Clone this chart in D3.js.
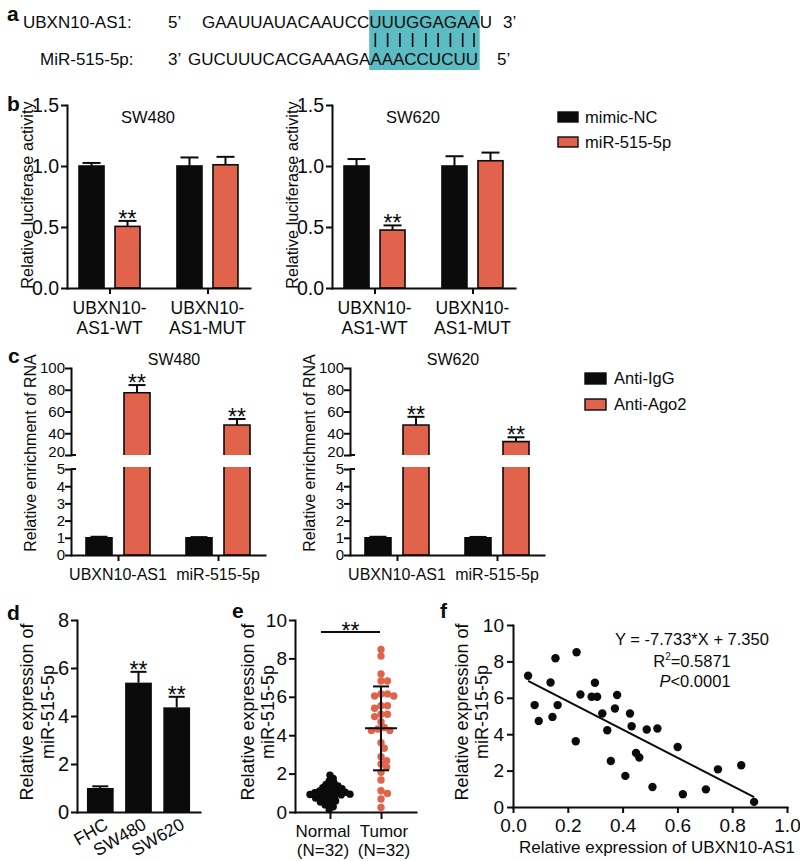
<!DOCTYPE html>
<html><head><meta charset="utf-8">
<script src="https://cdn.jsdelivr.net/npm/d3@7"></script>
<style>
body{margin:0;background:#fff}
svg{display:block}
text{font-family:"Liberation Sans",Arial,Helvetica,sans-serif;fill:#0b0b0b}
</style>
</head><body>
<svg id="fig" width="800" height="861"></svg>
<script>
// ---------------- DATA ----------------
const seqTopLabel = "UBXN10-AS1:";
const seqBotLabel = "MiR-515-5p:";
const seqTop = ["GAAUUAUACAAUCC", "UUUGGAGAA", "U"];
const seqBot = ["GUCUUUCACGAAAGA", "AAACCUCUU", ""];

const lucGroups = ["UBXN10-AS1-WT", "UBXN10-AS1-MUT"];
const lucGroupLines = [["UBXN10-", "AS1-WT"], ["UBXN10-", "AS1-MUT"]];
const lucSeries = ["mimic-NC", "miR-515-5p"];
const lucSW480 = [[1.00, 0.505], [1.00, 1.01]];
const lucSW480Err = [[0.025, 0.045], [0.07, 0.065]];
const lucSW620 = [[1.00, 0.475], [1.00, 1.043]];
const lucSW620Err = [[0.057, 0.038], [0.08, 0.067]];
const lucTicks = [0, 0.5, 1.0, 1.5];

const ripGroups = ["UBXN10-AS1", "miR-515-5p"];
const ripSeries = ["Anti-IgG", "Anti-Ago2"];
const ripSW480 = [[1.0, 77.3], [1.0, 47.6]];
const ripSW480Err = [[0.06, 7.0], [0.04, 5.5]];
const ripSW620 = [[1.0, 47.6], [1.0, 32.3]];
const ripSW620Err = [[0.06, 7.5], [0.05, 4.0]];
const ripTicksLow = [0, 1, 2, 3, 4, 5];
const ripTicksHigh = [20, 40, 60, 80, 100];

const cellLines = ["FHC", "SW480", "SW620"];
const cellExpr = [1.0, 5.39, 4.36];
const cellErr = [0.07, 0.45, 0.44];
const cellTicks = [0, 2, 4, 6, 8];

const tissueGroups = ["Normal", "Tumor"];
const tissueN = ["(N=32)", "(N=32)"];
const normalVals = [1.92, 1.75, 1.62, 1.52, 1.44, 1.36, 1.31, 1.26, 1.21, 1.17, 1.13, 1.09, 1.06, 1.03, 1.01, 0.99,
                    0.96, 0.93, 0.91, 0.89, 0.86, 0.82, 0.78, 0.73, 0.68, 0.63, 0.57, 0.52, 0.45, 0.37, 0.27, 0.13];
const tumorVals = [8.47, 8.12, 7.19, 6.82, 6.82, 6.04, 6.15, 6.04, 6.15, 5.40, 5.54, 5.54, 4.97, 5.09, 5.09, 4.70,
                   4.40, 4.24, 4.32, 4.24, 3.61, 3.32, 2.88, 2.67, 2.50, 2.33, 2.07, 1.67, 1.11, 0.97, 0.68, 0.24];
const tissueTicks = [0, 2, 4, 6, 8, 10];

const corrX = [0.055, 0.079, 0.094, 0.137, 0.155, 0.144, 0.163, 0.232, 0.229, 0.246, 0.287, 0.299, 0.307, 0.326, 0.344, 0.357,
               0.372, 0.380, 0.410, 0.427, 0.433, 0.449, 0.461, 0.488, 0.509, 0.527, 0.601, 0.620, 0.704, 0.748, 0.833, 0.880];
const corrY = [7.21, 5.60, 4.73, 6.84, 8.17, 4.95, 5.60, 8.50, 3.61, 6.18, 6.06, 6.83, 6.06, 5.14, 4.22, 2.53,
               5.41, 6.15, 1.71, 5.14, 4.44, 2.97, 2.72, 4.26, 1.10, 4.31, 3.30, 0.70, 0.97, 2.07, 2.29, 0.28];
const corrSlope = -7.733, corrIntercept = 7.350;
const corrXTicks = [0, 0.2, 0.4, 0.6, 0.8, 1.0];
const corrYTicks = [0, 2, 4, 6, 8, 10];

// ---------------- STYLE ----------------
const FONT = '"Liberation Sans", Arial, Helvetica, sans-serif';
const BLACK = "#0b0b0b", ORANGE = "#e2634b", CYAN = "#5bbcc4";
const seriesColor = [BLACK, ORANGE];
const svg = d3.select("#fig");

function txt(g, x, y, s, size, anchor) {
  return g.append("text").attr("x", x).attr("y", y).attr("font-size", size)
    .attr("text-anchor", anchor || "start").text(s);
}
function panelLetter(x, y, s) {
  txt(svg, x, y, s, 21).attr("font-weight", "bold");
}
function styleAxis(ax, size) {
  ax.attr("font-family", FONT).attr("font-size", size);
  ax.select(".domain").attr("stroke", BLACK).attr("stroke-width", 2).attr("stroke-linecap", "square");
  ax.selectAll(".tick line").attr("stroke", BLACK).attr("stroke-width", 2);
  ax.selectAll(".tick text").attr("fill", BLACK);
  return ax;
}
function vlabel(g, x, yc, s, size) {
  return g.append("text").attr("transform", `translate(${x},${yc}) rotate(-90)`)
    .attr("text-anchor", "middle").attr("dy", "0.35em").attr("font-size", size).text(s);
}
function errBar(g, cx, yTop, yBase, cap) {
  g.append("line").attr("x1", cx).attr("x2", cx).attr("y1", yBase).attr("y2", yTop)
    .attr("stroke", BLACK).attr("stroke-width", 2);
  g.append("line").attr("x1", cx - cap / 2).attr("x2", cx + cap / 2).attr("y1", yTop).attr("y2", yTop)
    .attr("stroke", BLACK).attr("stroke-width", 2);
}
function stars(g, cx, yTop) {
  txt(g, cx, yTop + 6, "**", 23, "middle");
}

// ---------------- PANEL A ----------------
{
  const g = svg.append("g");
  panelLetter(7, 21, "a");
  txt(g, 23, 28, seqTopLabel, 17);
  txt(g, 40, 65, seqBotLabel, 17);
  txt(g, 168, 28, "5\u2019", 17);
  txt(g, 168, 65, "3\u2019", 17);
  const top = txt(g, 202, 28, seqTop.join(""), 17);
  txt(g, 188, 65, seqBot.join(""), 17);
  txt(g, 503, 28, "3\u2019", 17);
  txt(g, 497, 65, "5\u2019", 17);
  const n0 = seqTop[0].length, n1 = seqTop[1].length;
  const tn = top.node();
  const bx0 = tn.getStartPositionOfChar(n0).x;
  const bx1 = tn.getEndPositionOfChar(n0 + n1 - 1).x;
  g.insert("rect", ":first-child").attr("x", bx0).attr("y", 10).attr("width", bx1 - bx0).attr("height", 60).attr("fill", CYAN);
  for (let i = 0; i < n1; i++) {
    const c = (tn.getStartPositionOfChar(n0 + i).x + tn.getEndPositionOfChar(n0 + i).x) / 2;
    g.append("line").attr("x1", c).attr("x2", c).attr("y1", 33).attr("y2", 47)
      .attr("stroke", BLACK).attr("stroke-width", 1.6);
  }
}

// ---------------- PANEL B ----------------
function lucPanel(x0, title, vals, errs) {
  const g = svg.append("g");
  const y = d3.scaleLinear().domain([0, 1.5]).range([288, 105]);
  const xg = d3.scalePoint().domain(lucGroups).range([x0, x0 + 183]).padding(0.434);
  const xs = d3.scalePoint().domain(lucSeries).range([-18, 18]);
  const bw = 25;
  lucGroups.forEach((grp, i) => {
    lucSeries.forEach((s, j) => {
      const cx = xg(grp) + xs(s), v = vals[i][j], e = errs[i][j];
      errBar(g, cx, y(v + e), y(v), 18);
      g.append("rect").attr("x", cx - bw / 2).attr("y", y(v)).attr("width", bw).attr("height", y(0) - y(v))
        .attr("fill", seriesColor[j]).attr("stroke", BLACK).attr("stroke-width", 1.6);
      if (i === 0 && j === 1) stars(g, cx, y(v + e));
    });
  });
  styleAxis(g.append("g").attr("transform", `translate(${x0},0)`)
    .call(d3.axisLeft(y).tickValues(lucTicks).tickFormat(d3.format(".1f")).tickSize(6).tickPadding(2).tickSizeOuter(0)), 19.5);
  styleAxis(g.append("g").attr("transform", `translate(0,${y(0)})`)
    .call(d3.axisBottom(xg).tickSize(6).tickSizeOuter(0).tickFormat("")), 18);
  lucGroups.forEach((grp, i) => {
    txt(g, xg(grp), 314, lucGroupLines[i][0], 17.5, "middle");
    txt(g, xg(grp), 334, lucGroupLines[i][1], 17.5, "middle");
  });
  txt(g, x0 + 81, 123, title, 16.5, "middle");
  vlabel(g, x0 - 40, 195, "Relative luciferase activity", 16.3);
}
panelLetter(7, 111, "b");
lucPanel(67, "SW480", lucSW480, lucSW480Err);
lucPanel(332, "SW620", lucSW620, lucSW620Err);
{
  const g = svg.append("g");
  lucSeries.forEach((s, j) => {
    g.append("rect").attr("x", 558).attr("y", 112 + j * 25).attr("width", 20).attr("height", 10)
      .attr("fill", seriesColor[j]).attr("stroke", BLACK).attr("stroke-width", 1.4);
    txt(g, 585, 123 + j * 25, s, 16.5);
  });
}

// ---------------- PANEL C ----------------
function ripPanel(x0, title, vals, errs) {
  const g = svg.append("g");
  const yLow = d3.scaleLinear().domain([0, 5]).range([555, 469]);
  const yHigh = d3.scaleLinear().domain([20, 100]).range([455, 368]);
  const xg = d3.scalePoint().domain(ripGroups).range([x0, x0 + 194]).padding(0.47);
  const xs = d3.scalePoint().domain(ripSeries).range([-19, 19]);
  const bw = 26;
  ripGroups.forEach((grp, i) => {
    ripSeries.forEach((s, j) => {
      const cx = xg(grp) + xs(s), v = vals[i][j], e = errs[i][j];
      const xl = cx - bw / 2, xr = cx + bw / 2;
      if (v <= 5) {
        errBar(g, cx, yLow(v + e), yLow(v), 17);
        g.append("rect").attr("x", xl).attr("y", yLow(v)).attr("width", bw).attr("height", yLow(0) - yLow(v))
          .attr("fill", seriesColor[j]).attr("stroke", BLACK).attr("stroke-width", 1.6);
      } else {
        errBar(g, cx, yHigh(v + e), yHigh(v), 17);
        const lowTop = yLow(5) - 2;
        g.append("rect").attr("x", xl).attr("y", lowTop).attr("width", bw).attr("height", yLow(0) - lowTop)
          .attr("fill", seriesColor[j]);
        g.append("path").attr("d", `M${xl},${lowTop}V${yLow(0)}H${xr}V${lowTop}`)
          .attr("fill", "none").attr("stroke", BLACK).attr("stroke-width", 1.6);
        g.append("rect").attr("x", xl).attr("y", yHigh(v)).attr("width", bw).attr("height", yHigh(20) - yHigh(v))
          .attr("fill", seriesColor[j]);
        g.append("path").attr("d", `M${xl},${yHigh(20)}V${yHigh(v)}H${xr}V${yHigh(20)}`)
          .attr("fill", "none").attr("stroke", BLACK).attr("stroke-width", 1.6);
        stars(g, cx, yHigh(v + e));
      }
    });
  });
  styleAxis(g.append("g").attr("transform", `translate(${x0},0)`)
    .call(d3.axisLeft(yLow).tickValues(ripTicksLow).tickFormat(d3.format("d")).tickSize(6).tickPadding(0).tickSizeOuter(0)), 15);
  const axHigh = styleAxis(g.append("g").attr("transform", `translate(${x0},0)`)
    .call(d3.axisLeft(yHigh).tickValues(ripTicksHigh).tickFormat(d3.format("d")).tickSize(6).tickPadding(0).tickSizeOuter(0)), 15);
  axHigh.selectAll(".tick text").filter(d => d === 20).attr("y", -3.5);
  [yLow(5), yHigh(20)].forEach(yy => {
    g.append("line").attr("x1", x0).attr("x2", x0 + 5).attr("y1", yy).attr("y2", yy)
      .attr("stroke", BLACK).attr("stroke-width", 2);
  });
  styleAxis(g.append("g").attr("transform", `translate(0,${yLow(0)})`)
    .call(d3.axisBottom(xg).tickSize(6).tickSizeOuter(0).tickFormat("")), 16);
  ripGroups.forEach(grp => txt(g, xg(grp), 580, grp, 16, "middle"));
  txt(g, x0 + 103, 365, title, 16, "middle");
  vlabel(g, x0 - 41, 453, "Relative enrichment of RNA", 16);
}
panelLetter(8, 363, "c");
ripPanel(71, "SW480", ripSW480, ripSW480Err);
ripPanel(350, "SW620", ripSW620, ripSW620Err);
{
  const g = svg.append("g");
  ripSeries.forEach((s, j) => {
    g.append("rect").attr("x", 585).attr("y", 373 + j * 26).attr("width", 21).attr("height", 11)
      .attr("fill", seriesColor[j]).attr("stroke", BLACK).attr("stroke-width", 1.4);
    txt(g, 614, 384 + j * 26, s, 16.5);
  });
}

// ---------------- PANEL D ----------------
{
  const g = svg.append("g");
  panelLetter(7, 620, "d");
  const y = d3.scaleLinear().domain([0, 8]).range([812, 620]);
  const x = d3.scaleBand().domain(cellLines).range([77, 200]).paddingInner(0.3).paddingOuter(0.26);
  cellLines.forEach((c, i) => {
    const cx = x(c) + x.bandwidth() / 2, v = cellExpr[i], e = cellErr[i];
    errBar(g, cx, y(v + e), y(v), 16);
    g.append("rect").attr("x", x(c)).attr("y", y(v)).attr("width", x.bandwidth()).attr("height", y(0) - y(v))
      .attr("fill", BLACK);
    if (i > 0) stars(g, cx, y(v + e));
    g.append("text").attr("transform", `translate(${cx + 9},828) rotate(-30)`)
      .attr("text-anchor", "end").attr("font-size", 17.5).text(c);
  });
  styleAxis(g.append("g").attr("transform", "translate(77,0)")
    .call(d3.axisLeft(y).tickValues(cellTicks).tickFormat(d3.format("d")).tickSize(6).tickPadding(2).tickSizeOuter(0)), 20);
  styleAxis(g.append("g").attr("transform", `translate(0,${y(0)})`)
    .call(d3.axisBottom(x).tickSize(0).tickSizeOuter(0).tickFormat("")), 17);
  vlabel(g, 27, 712, "Relative expression of", 18);
  vlabel(g, 48, 712, "miR-515-5p", 18);
}

// ---------------- PANEL E ----------------
function swarm(values, yScale, r, step, factor) {
  const pts = values.map(v => ({ v, y: yScale(v), dx: 0 })).sort((a, b) => b.v - a.v);
  const placed = [];
  const minD2 = (2 * r) * (2 * r) * factor;
  pts.forEach(p => {
    for (let k = 0; k < 80; k++) {
      const off = k === 0 ? 0 : (k % 2 ? 1 : -1) * Math.ceil(k / 2) * step;
      if (placed.every(q => (q.dx - off) ** 2 + (q.y - p.y) ** 2 >= minD2)) { p.dx = off; break; }
    }
    placed.push(p);
  });
  return placed;
}
{
  const g = svg.append("g");
  panelLetter(232, 618, "e");
  const y = d3.scaleLinear().domain([0, 10]).range([812, 620]);
  const x = d3.scalePoint().domain(tissueGroups).range([295, 416]).padding(0.686);
  const sets = [{ vals: normalVals, color: BLACK, f: 0.36 }, { vals: tumorVals, color: ORANGE, f: 0.72 }];
  sets.forEach((s, i) => {
    const cx = x(tissueGroups[i]);
    const pts = swarm(s.vals, y, 3.7, 0.8, s.f);
    g.selectAll(null).data(pts).join("circle")
      .attr("cx", d => cx + d.dx).attr("cy", d => d.y).attr("r", 3.7).attr("fill", s.color);
    const m = d3.mean(s.vals), sd = d3.deviation(s.vals);
    g.append("line").attr("x1", cx).attr("x2", cx).attr("y1", y(m - sd)).attr("y2", y(m + sd))
      .attr("stroke", BLACK).attr("stroke-width", 2);
    [m - sd, m + sd].forEach(v => g.append("line").attr("x1", cx - 8).attr("x2", cx + 8)
      .attr("y1", y(v)).attr("y2", y(v)).attr("stroke", BLACK).attr("stroke-width", 2));
    g.append("line").attr("x1", cx - 16).attr("x2", cx + 16).attr("y1", y(m)).attr("y2", y(m))
      .attr("stroke", BLACK).attr("stroke-width", 2);
  });
  styleAxis(g.append("g").attr("transform", "translate(295,0)")
    .call(d3.axisLeft(y).tickValues(tissueTicks).tickFormat(d3.format("d")).tickSize(6).tickPadding(2).tickSizeOuter(0)), 19);
  styleAxis(g.append("g").attr("transform", `translate(0,${y(0)})`)
    .call(d3.axisBottom(x).tickSize(7).tickSizeOuter(0).tickFormat("")), 17);
  const lblShift = [-7, 3];
  tissueGroups.forEach((t, i) => {
    txt(g, x(t) + lblShift[i], 837, t, 17, "middle");
    txt(g, x(t) + lblShift[i], 856, tissueN[i], 17, "middle");
  });
  const sx0 = x(tissueGroups[0]) - 9, sx1 = x(tissueGroups[1]) - 1;
  g.append("line").attr("x1", sx0).attr("x2", sx1).attr("y1", 632).attr("y2", 632).attr("stroke", BLACK).attr("stroke-width", 2);
  txt(g, (sx0 + sx1) / 2, 639, "**", 23, "middle");
  vlabel(g, 248, 712, "Relative expression of", 18);
  vlabel(g, 268, 712, "miR-515-5p", 18);
}

// ---------------- PANEL F ----------------
{
  const g = svg.append("g");
  panelLetter(440, 618, "f");
  const x = d3.scaleLinear().domain([0, 1]).range([513, 787]);
  const y = d3.scaleLinear().domain([0, 10]).range([807, 625]);
  const xmin = d3.min(corrX), xmax = d3.max(corrX);
  g.append("line").attr("x1", x(xmin)).attr("x2", x(xmax))
    .attr("y1", y(corrSlope * xmin + corrIntercept)).attr("y2", y(corrSlope * xmax + corrIntercept))
    .attr("stroke", BLACK).attr("stroke-width", 2);
  g.selectAll(null).data(corrX.map((v, i) => [v, corrY[i]])).join("circle")
    .attr("cx", d => x(d[0])).attr("cy", d => y(d[1])).attr("r", 4.2).attr("fill", BLACK);
  styleAxis(g.append("g").attr("transform", "translate(513,0)")
    .call(d3.axisLeft(y).tickValues(corrYTicks).tickFormat(d3.format("d")).tickSize(6).tickPadding(3).tickSizeOuter(0)), 19);
  styleAxis(g.append("g").attr("transform", "translate(0,807)")
    .call(d3.axisBottom(x).tickValues(corrXTicks).tickFormat(d3.format(".1f")).tickSize(6).tickPadding(6).tickSizeOuter(0)), 19);
  txt(g, 657, 853, "Relative expression of UBXN10-AS1", 17, "middle");
  vlabel(g, 462, 712, "Relative expression of", 18);
  vlabel(g, 482, 712, "miR-515-5p", 18);
  txt(g, 692, 645, `Y = ${corrSlope.toFixed(3)}*X + ${corrIntercept.toFixed(3)}`, 16.5, "middle");
  const r2 = g.append("text").attr("x", 692).attr("y", 667).attr("font-size", 16.5).attr("text-anchor", "middle");
  r2.append("tspan").text("R");
  r2.append("tspan").attr("font-size", 10).attr("dy", -7).text("2");
  r2.append("tspan").attr("dy", 7).text("=0.5871");
  const pt = g.append("text").attr("x", 695).attr("y", 687).attr("font-size", 16.5).attr("text-anchor", "middle");
  pt.append("tspan").attr("font-style", "italic").text("P");
  pt.append("tspan").text("<0.0001");
}
</script>
</body></html>
